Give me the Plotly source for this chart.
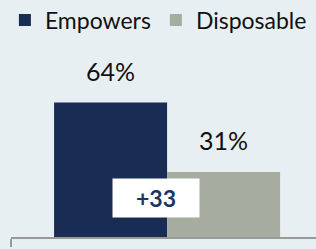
import plotly.graph_objects as go

series = ["Empowers", "Disposable"]
values = [64, 31]
labels = ["64%", "31%"]
colors = ["#182C54", "#A7ACA1"]

bar_w = 0.362
bg = "#E8EFF2"
fig = go.Figure()
for i, (name, v, c) in enumerate(zip(series, values, colors)):
    fig.add_trace(go.Bar(x=[0], y=[v], name=name, marker_color=c,
                         width=bar_w, offset=(i - 1) * bar_w,
                         marker_line_width=0, hoverinfo="skip"))

for i, (v, lab) in enumerate(zip(values, labels)):
    fig.add_annotation(x=(i - 0.5) * bar_w, y=v + 15, xref="x", yref="y", text=lab,
                       showarrow=False, font=dict(family="Lato", size=25, color="#111111"),
                       yanchor="middle")

diff = values[0] - values[1]
fig.add_annotation(x=-0.035, y=18.5, xref="x", yref="y", text=f"<b>+{diff}</b>",
                   showarrow=False, bgcolor="white", width=84, height=36,
                   font=dict(family="Lato", size=23, color="#1B3563"),
                   yanchor="middle", xanchor="center")

fig.update_layout(
    width=316, height=249,
    margin=dict(l=11, r=0, t=27, b=12, autoexpand=False),
    paper_bgcolor=bg, plot_bgcolor=bg,
    barmode="overlay",
    showlegend=True,
    legend=dict(orientation="h", x=-0.02, y=1.135, xanchor="left", yanchor="top",
                font=dict(family="Lato", size=23, color="#111111"),
                bgcolor="rgba(0,0,0,0)"),
    xaxis=dict(type="linear", range=[-0.5, 0.477], showline=True, linecolor="#999999",
               linewidth=2, ticks="outside", tickvals=[-0.5], ticklen=8,
               tickcolor="#999999", tickwidth=2, showticklabels=False,
               showgrid=False, zeroline=False),
    yaxis=dict(range=[0, 100], visible=False, showgrid=False, zeroline=False),
)
fig.write_html(
    "out.html", config={"displayModeBar": False},
    post_script=("document.body.style.margin='0';"
                 "document.body.style.overflow='hidden';"
                 "document.documentElement.style.overflow='hidden';"))
